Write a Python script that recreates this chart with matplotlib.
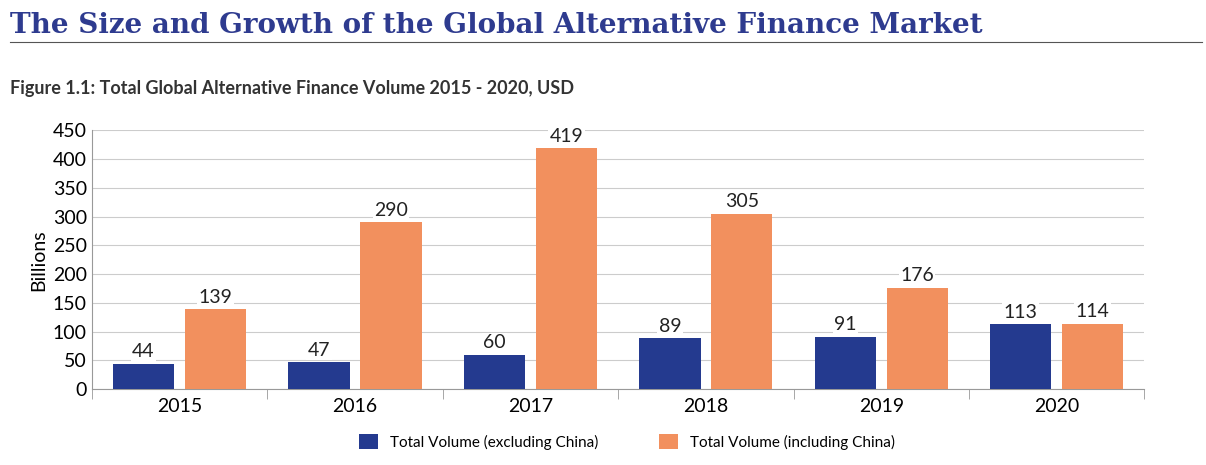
import matplotlib
matplotlib.use('Agg')
import numpy as np
import matplotlib.pyplot as plt

years = ["2015", "2016", "2017", "2018", "2019", "2020"]
excl_china = [44, 47, 60, 89, 91, 113]
incl_china = [139, 290, 419, 305, 176, 114]

BLUE = "#243a8f"
ORANGE = "#f2905e"

plt.rcParams['font.family'] = ['Lato', 'DejaVu Sans']

fig = plt.figure(figsize=(12.06, 4.65), dpi=100)
fig.text(0.008, 0.945, "The Size and Growth of the Global Alternative Finance Market",
         family="DejaVu Serif", fontweight="bold", fontsize=20, color="#2e3b8f", va="center")
fig.add_artist(plt.Line2D([0.008, 0.997], [0.91, 0.91], color="#555555", lw=0.8))
fig.text(0.008, 0.81, "Figure 1.1: Total Global Alternative Finance Volume 2015 - 2020, USD",
         fontweight="bold", fontsize=13, color="#333333", va="center")

ax = fig.add_axes([0.076, 0.163, 0.873, 0.557])
x = np.arange(len(years))
w = 0.35
b1 = ax.bar(x - 0.205, excl_china, w, color=BLUE, label="Total Volume (excluding China)", zorder=3)
b2 = ax.bar(x + 0.205, incl_china, w, color=ORANGE, label="Total Volume (including China)", zorder=3)
for bars in (b1, b2):
    for r in bars:
        ax.text(r.get_x() + r.get_width() / 2, r.get_height() + 6, f"{int(r.get_height())}",
                ha="center", va="bottom", fontsize=14, color="#222222", zorder=4,
                bbox=dict(facecolor="white", edgecolor="none", pad=1))

ax.set_xlim(-0.5, len(years) - 0.5)
ax.set_ylim(0, 450)
ax.set_yticks(range(0, 451, 50))
ax.set_xticks(x)
ax.set_xticklabels(years)
ax.set_xticks(np.arange(-0.5, len(years), 1), minor=True)
ax.tick_params(axis="x", which="major", length=0, labelsize=14, pad=6)
ax.tick_params(axis="x", which="minor", length=7, color="#999999")
ax.tick_params(axis="y", length=0, labelsize=14)
ax.grid(axis="y", color="#cccccc", lw=0.8, zorder=0)
for s in ("top", "right"):
    ax.spines[s].set_visible(False)
for s in ("left", "bottom"):
    ax.spines[s].set_color("#999999")
ax.set_ylabel("Billions", fontsize=14)

fig.legend(loc="center", bbox_to_anchor=(0.52, 0.05), ncol=2, frameon=False,
           fontsize=11, handlelength=1.2, handleheight=1.2, columnspacing=4)

fig.savefig("out.png", dpi=100)
